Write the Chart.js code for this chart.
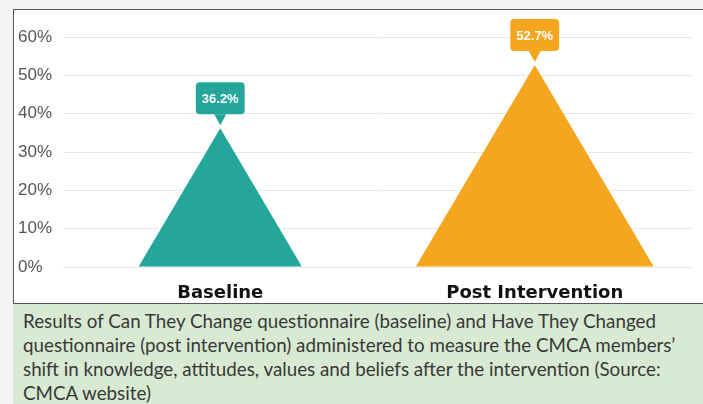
<!DOCTYPE html>
<html>
<head>
<meta charset="utf-8">
<script src="https://cdn.jsdelivr.net/npm/chart.js@4"></script>
<style>
  html, body { margin: 0; padding: 0; }
  body { width: 703px; height: 404px; background: #f4f4f4; position: relative; overflow: hidden; }
  #chart-box {
    position: absolute; left: 13px; top: 9px; width: 690px; height: 293px;
    background: #fff; border-top: 1px solid #555; border-left: 1px solid #555; border-bottom: 1px solid #555;
  }
  #chart-box canvas { display: block; }
  #caption {
    position: absolute; left: 13px; top: 304px; width: 690px; height: 100px;
    background: #d9ead3; color: #383838;
    font-family: Lato, "Liberation Sans", sans-serif; font-size: 18.8px; line-height: 24px;
    padding: 5px 0 0 10px; box-sizing: border-box; white-space: nowrap;
  }
</style>
</head>
<body>
<div id="chart-box"><canvas id="chart" width="690" height="293"></canvas></div>
<div id="caption">
  Results of Can They Change questionnaire (baseline) and Have They Changed<br>
  questionnaire (post intervention) administered to measure the CMCA members’<br>
  shift in knowledge, attitudes, values and beliefs after the intervention (Source:<br>
  CMCA website)
</div>

<script>
const categories = ['Baseline', 'Post Intervention'];
const values = [36.2, 52.7];
const colors = ['#25a69b', '#f6a51e'];
const yTicks = [0, 10, 20, 30, 40, 50, 60];

// draws each bar as a triangle (width grows with height) plus a callout label above the tip
const trianglePlugin = {
  id: 'triangles',
  afterDatasetsDraw(chart) {
    const ctx = chart.ctx;
    const meta = chart.getDatasetMeta(0);

    meta.data.forEach((bar, i) => {
      const height = bar.base - bar.y;
      const half = height * 0.59;

      ctx.save();
      ctx.fillStyle = colors[i];
      ctx.beginPath();
      ctx.moveTo(bar.x - half, bar.base);
      ctx.lineTo(bar.x, bar.y);
      ctx.lineTo(bar.x + half, bar.base);
      ctx.closePath();
      ctx.fill();

      // callout
      const text = values[i].toFixed(1) + '%';
      ctx.font = 'bold 13px "Liberation Sans", Arial, sans-serif';
      const w = ctx.measureText(text).width + 12;
      const h = 32;
      const bottom = bar.y - 14;
      const top = bottom - h;
      ctx.beginPath();
      ctx.roundRect(bar.x - w / 2, top, w, h, 4);
      ctx.fill();
      ctx.beginPath();
      ctx.moveTo(bar.x - 6, bottom);
      ctx.lineTo(bar.x, bar.y - 3);
      ctx.lineTo(bar.x + 6, bottom);
      ctx.closePath();
      ctx.fill();

      ctx.fillStyle = '#fff';
      ctx.textAlign = 'center';
      ctx.textBaseline = 'middle';
      ctx.fillText(text, bar.x, top + h / 2 + 1);
      ctx.restore();
    });
  }
};

new Chart(document.getElementById('chart'), {
  type: 'bar',
  data: {
    labels: categories,
    datasets: [{
      data: values,
      backgroundColor: 'rgba(0,0,0,0)',
      borderWidth: 0
    }]
  },
  options: {
    responsive: false,
    animation: false,
    layout: {
      padding: {top: 27, left: 4, right: 12, bottom: 0}
    },
    scales: {
      x: {
        border: {display: false},
        grid: {display: false, drawTicks: false},
        afterFit: (scale) => { scale.height = 36; },
        ticks: {
          padding: 16,
          color: '#111',
          font: {size: 18, weight: 'bold', family: '"DejaVu Sans", sans-serif'}
        }
      },
      y: {
        min: 0,
        max: 60,
        border: {display: false},
        grid: {color: '#e8e8e8', drawTicks: false},
        afterFit: (scale) => { scale.width = 45; },
        afterBuildTicks: (scale) => { scale.ticks = yTicks.map(v => ({value: v})); },
        ticks: {
          crossAlign: 'far',
          padding: 0,
          color: '#555',
          font: {size: 17, family: '"Liberation Sans", Arial, sans-serif'},
          callback: (v) => v + '%'
        }
      }
    },
    plugins: {
      legend: {display: false},
      tooltip: {enabled: false}
    }
  },
  plugins: [trianglePlugin]
});
</script>
</body>
</html>
